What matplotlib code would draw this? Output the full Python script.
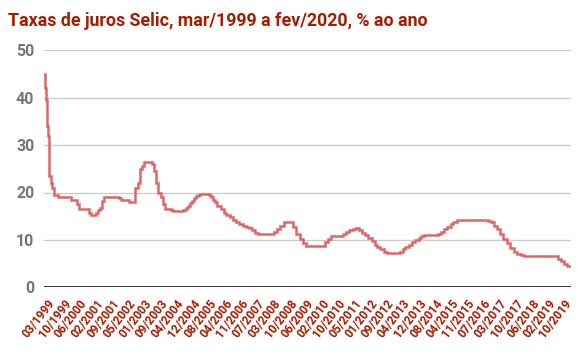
import matplotlib.pyplot as plt
import matplotlib.dates as mdates
import numpy as np
import pandas as pd

# Selic target changes (date of change, % per year)
change_dates = [
    '1999-03-05', '1999-03-25', '1999-04-06', '1999-04-15', '1999-04-29', '1999-05-11',
    '1999-05-14', '1999-05-20', '1999-06-10', '1999-06-24', '1999-07-29', '1999-09-23',
    '2000-03-24', '2000-06-21', '2000-07-20', '2000-12-21',
    '2001-01-18', '2001-03-22', '2001-04-19', '2001-05-24', '2001-06-21', '2001-07-19',
    '2002-02-21', '2002-03-21', '2002-07-18', '2002-10-15', '2002-11-21', '2002-12-19',
    '2003-01-23', '2003-02-20', '2003-06-19', '2003-07-24', '2003-08-21', '2003-09-18',
    '2003-10-23', '2003-11-20', '2003-12-18',
    '2004-03-18', '2004-04-15', '2004-09-16', '2004-10-21', '2004-11-18', '2004-12-16',
    '2005-01-20', '2005-02-17', '2005-03-17', '2005-04-20', '2005-05-19', '2005-09-15',
    '2005-10-20', '2005-11-24', '2005-12-15',
    '2006-01-19', '2006-03-09', '2006-04-20', '2006-06-01', '2006-07-20', '2006-08-31',
    '2006-10-19', '2006-11-30',
    '2007-01-25', '2007-03-08', '2007-04-19', '2007-06-07', '2007-07-19', '2007-09-06',
    '2008-04-17', '2008-06-05', '2008-07-24', '2008-09-11',
    '2009-01-22', '2009-03-12', '2009-04-30', '2009-06-11', '2009-07-23',
    '2010-04-29', '2010-06-10', '2010-07-22',
    '2011-01-20', '2011-03-03', '2011-04-21', '2011-06-09', '2011-07-21', '2011-09-01',
    '2011-10-20', '2011-12-01',
    '2012-01-19', '2012-03-08', '2012-04-19', '2012-05-31', '2012-07-12', '2012-08-30',
    '2012-10-11',
    '2013-04-18', '2013-05-30', '2013-07-11', '2013-08-29', '2013-10-10', '2013-11-28',
    '2014-01-16', '2014-02-27', '2014-04-03', '2014-10-30', '2014-12-04',
    '2015-01-22', '2015-03-05', '2015-04-30', '2015-06-04', '2015-07-30',
    '2016-10-20', '2016-12-01',
    '2017-01-12', '2017-02-23', '2017-04-13', '2017-06-01', '2017-07-27', '2017-09-07',
    '2017-10-26', '2017-12-07',
    '2018-02-08', '2018-03-22',
    '2019-08-01', '2019-09-19', '2019-10-31', '2019-12-12',
]
selic = [
    45.00, 42.00, 39.50, 34.00, 32.00, 29.50,
    27.00, 23.50, 22.00, 21.00, 19.50, 19.00,
    18.50, 17.50, 16.50, 15.75,
    15.25, 15.75, 16.25, 16.75, 18.25, 19.00,
    18.75, 18.50, 18.00, 21.00, 22.00, 25.00,
    25.50, 26.50, 26.00, 24.50, 22.00, 20.00,
    19.00, 17.50, 16.50,
    16.25, 16.00, 16.25, 16.75, 17.25, 17.75,
    18.25, 18.75, 19.25, 19.50, 19.75, 19.50,
    19.00, 18.50, 18.00,
    17.25, 16.50, 15.75, 15.25, 14.75, 14.25,
    13.75, 13.25,
    13.00, 12.75, 12.50, 12.00, 11.50, 11.25,
    11.75, 12.25, 13.00, 13.75,
    12.75, 11.25, 10.25, 9.25, 8.75,
    9.50, 10.25, 10.75,
    11.25, 11.75, 12.00, 12.25, 12.50, 12.00,
    11.50, 11.00,
    10.50, 9.75, 9.00, 8.50, 8.00, 7.50,
    7.25,
    7.50, 8.00, 8.50, 9.00, 9.50, 10.00,
    10.50, 10.75, 11.00, 11.25, 11.75,
    12.25, 12.75, 13.25, 13.75, 14.25,
    14.00, 13.75,
    13.00, 12.25, 11.25, 10.25, 9.25, 8.25,
    7.50, 7.00,
    6.75, 6.50,
    6.00, 5.50, 5.00, 4.50,
]
end_date = '2020-02-05'

tick_labels = [
    '03/1999', '10/1999', '06/2000', '02/2001', '09/2001', '05/2002', '01/2003',
    '09/2003', '04/2004', '12/2004', '08/2005', '04/2006', '11/2006', '07/2007',
    '03/2008', '10/2008', '06/2009', '02/2010', '10/2010', '05/2011', '01/2012',
    '09/2012', '04/2013', '12/2013', '08/2014', '04/2015', '11/2015', '07/2016',
    '03/2017', '10/2017', '06/2018', '02/2019', '10/2019',
]

title_color = '#a61c00'
line_color = '#e06666'

plt.rcParams['font.family'] = ['Roboto', 'DejaVu Sans']

dates = pd.to_datetime(change_dates + [end_date])
values = selic + [selic[-1]]
x = mdates.date2num(dates)

fig = plt.figure(figsize=(5.82, 3.56), dpi=100)
ax = fig.add_axes([44 / 582, 1 - 287.3 / 356, 527 / 582, (287.3 - 50.3) / 356])

ax.plot(x, values, drawstyle='steps-post', color=line_color, linewidth=1.8,
        solid_joinstyle='miter', zorder=3)

ax.set_xlim(x[0], x[-1])
ax.set_ylim(0, 50)
ax.set_yticks([0, 10, 20, 30, 40, 50])
ax.grid(axis='y', color='#cccccc', linewidth=1)
ax.axhline(0, color='#333333', linewidth=1.4, zorder=4)
for s in ax.spines.values():
    s.set_visible(False)
ax.tick_params(axis='y', length=0, pad=7, labelsize=11.5, labelcolor='#757575')
for lab in ax.get_yticklabels():
    lab.set_fontweight('bold')

span = x[-1] - x[0]
ticks = np.linspace(x[0] + 0.016 * span, x[0] + 0.997 * span, len(tick_labels))
ax.set_xticks(ticks)
ax.set_xticklabels(tick_labels, rotation=52, ha='right', va='center',
                   rotation_mode='anchor', fontsize=8.5, fontweight='bold',
                   color=title_color)
ax.tick_params(axis='x', length=0, pad=10)

fig.text(8 / 582, 1 - 26 / 356, 'Taxas de juros Selic, mar/1999 a fev/2020, % ao ano',
         fontsize=12.8, fontweight='bold', color=title_color, va='baseline', ha='left')

fig.savefig('out.png', dpi=100)
